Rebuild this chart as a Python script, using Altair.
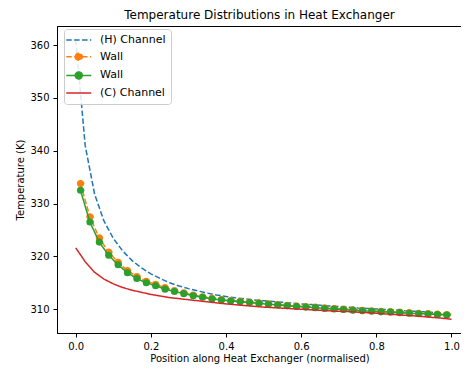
import altair as alt
import pandas as pd

# positions (normalised) of channel nodes and wall cell centres
channel_x = [round(i * 0.025, 4) for i in range(41)]
wall_x = [round(0.0125 + i * 0.025, 4) for i in range(40)]

hot_channel = [361.0, 341.0, 331.8, 326.7, 323.4, 321.0, 319.2, 317.8, 316.7, 315.8,
               315.0, 314.4, 313.9, 313.45, 313.05, 312.7, 312.4, 312.15, 311.95, 311.75,
               311.6, 311.45, 311.3, 311.15, 311.0, 310.9, 310.75, 310.6, 310.5, 310.4,
               310.25, 310.15, 310.05, 309.95, 309.85, 309.7, 309.6, 309.5, 309.4, 309.25,
               309.1]
cold_channel = [321.6, 319.0, 317.0, 315.7, 314.8, 314.1, 313.6, 313.2, 312.8, 312.5,
                312.2, 312.0, 311.8, 311.6, 311.4, 311.2, 311.0, 310.85, 310.7, 310.55,
                310.4, 310.3, 310.2, 310.1, 310.0, 309.9, 309.8, 309.7, 309.6, 309.55,
                309.45, 309.35, 309.25, 309.1, 309.0, 308.85, 308.75, 308.6, 308.45, 308.3,
                308.1]
wall_1 = [333.8, 327.5, 323.5, 320.8, 318.9, 317.3, 316.2, 315.3, 314.7, 314.1,
          313.55, 313.1, 312.7, 312.35, 312.05, 311.85, 311.65, 311.5, 311.35, 311.2,
          311.05, 310.9, 310.75, 310.6, 310.5, 310.4, 310.25, 310.15, 310.05, 309.9,
          309.8, 309.7, 309.6, 309.55, 309.45, 309.35, 309.25, 309.2, 309.1, 309.0]
wall_2 = [332.5, 326.5, 322.7, 320.2, 318.4, 316.9, 315.8, 315.0, 314.45, 313.8,
          313.35, 312.95, 312.55, 312.25, 311.95, 311.75, 311.55, 311.4, 311.25, 311.1,
          310.95, 310.8, 310.65, 310.5, 310.4, 310.3, 310.15, 310.05, 309.95, 309.8,
          309.7, 309.6, 309.5, 309.45, 309.35, 309.25, 309.15, 309.1, 309.0, 308.9]

series_keys = ["H", "W1", "W2", "C"]
series_labels = ["(H) Channel", "Wall", "Wall", "(C) Channel"]
series_colors = ["#1f77b4", "#ff7f0e", "#2ca02c", "#d62728"]
x_ticks = [0.0, 0.2, 0.4, 0.6, 0.8, 1.0]
y_ticks = [310, 320, 330, 340, 350, 360]

rows = []
for xv, tv in zip(channel_x, hot_channel):
    rows.append({"x": xv, "t": tv, "series": "H"})
for xv, tv in zip(wall_x, wall_1):
    rows.append({"x": xv, "t": tv, "series": "W1"})
for xv, tv in zip(wall_x, wall_2):
    rows.append({"x": xv, "t": tv, "series": "W2"})
for xv, tv in zip(channel_x, cold_channel):
    rows.append({"x": xv, "t": tv, "series": "C"})
df = pd.DataFrame(rows)

label_expr = ("datum.value=='H' ? '" + series_labels[0] + "' : datum.value=='C' ? '"
              + series_labels[3] + "' : 'Wall'")

line_path = "M-1.75,0L3.25,0"
marker_path = "M-1.75,0L3.25,0M0.05,0A0.7,0.7,0,1,1,1.45,0A0.7,0.7,0,1,1,0.05,0Z"
legend_shapes = [line_path, marker_path, marker_path, line_path]
legend_dashes = [[5.5, 2.4], [5.5, 2.4], [1, 0], [1, 0]]

legend = alt.Legend(
    title=None,
    orient="none",
    legendX=7,
    legendY=3,
    labelExpr=label_expr,
    labelFont="DejaVu Sans",
    labelFontSize=11,
    labelColor="black",
    labelOffset=19,
    fillColor="rgba(255,255,255,0.85)",
    strokeColor="#cccccc",
    cornerRadius=3,
    padding=5,
    rowPadding=4.7,
    symbolSize=100,
    symbolStrokeWidth=1.5,
    symbolOpacity=1,
)

x_enc = alt.X("x:Q",
              scale=alt.Scale(domain=[-0.05, 1.028], nice=False, zero=False),
              axis=alt.Axis(values=x_ticks, format=".1f",
                            title="Position along Heat Exchanger (normalised)"))
y_enc = alt.Y("t:Q",
              scale=alt.Scale(domain=[305.5, 363.6], nice=False, zero=False),
              axis=alt.Axis(values=y_ticks, format="d", title="Temperature (K)"))

series_scale = alt.Scale(domain=series_keys, range=series_colors)

base = alt.Chart(df).encode(
    x=x_enc, y=y_enc,
    color=alt.Color("series:N", scale=series_scale, legend=legend),
    shape=alt.Shape("series:N", scale=alt.Scale(domain=series_keys, range=legend_shapes), legend=legend),
    strokeDash=alt.StrokeDash("series:N", scale=alt.Scale(domain=series_keys, range=legend_dashes), legend=legend),
)

hot = base.transform_filter("datum.series=='H'").mark_line(strokeWidth=1.5)
w1_line = base.transform_filter("datum.series=='W1'").mark_line(strokeWidth=1.5)
w1_pts = base.transform_filter("datum.series=='W1'").mark_circle(size=50, opacity=1).encode(
    shape=alt.value("circle"), strokeDash=alt.value([1, 0]))
w2_line = base.transform_filter("datum.series=='W2'").mark_line(strokeWidth=1.5)
w2_pts = base.transform_filter("datum.series=='W2'").mark_circle(size=50, opacity=1).encode(
    shape=alt.value("circle"), strokeDash=alt.value([1, 0]))
cold = base.transform_filter("datum.series=='C'").mark_line(strokeWidth=1.5)

chart = alt.layer(hot, w1_line, w1_pts, w2_line, w2_pts, cold).properties(
    width=405,
    height=307,
    title=alt.TitleParams("Temperature Distributions in Heat Exchanger"),
    autosize=alt.AutoSizeParams(type="none"),
    padding={"left": 49, "top": 18, "right": -1, "bottom": 31},
).configure_view(
    stroke="black", strokeWidth=1
).configure_axis(
    domainColor="black", tickColor="black", labelColor="black", titleColor="black",
    labelFont="DejaVu Sans", titleFont="DejaVu Sans", labelFontSize=10, titleFontSize=10,
    titleFontWeight="normal", tickSize=4, labelPadding=4, titlePadding=4, grid=False,
    domainWidth=1, tickWidth=1,
).configure_axisX(
    labelPadding=4, titlePadding=2
).configure_title(
    font="DejaVu Sans", fontSize=12, fontWeight="normal", color="black", offset=4, anchor="middle"
)

chart.save("out.html", embed_options={"renderer": "svg", "actions": False})
